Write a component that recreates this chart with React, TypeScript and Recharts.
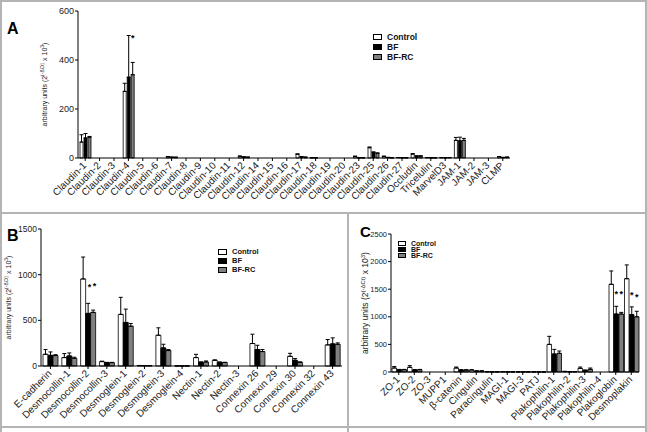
import React from "react";
import { BarChart, Bar, XAxis, YAxis, ErrorBar, LabelList } from "recharts";

const FONT = "'Liberation Sans', Arial, Helvetica, sans-serif";

// ---------- Panel A ----------
const catsA = ["Claudin-1","Claudin-2","Claudin-3","Claudin-4","Claudin-5","Claudin-6","Claudin-7","Claudin-8","Claudin-9","Claudin-10","Claudin-11","Claudin-12","Claudin-14","Claudin-15","Claudin-16","Claudin-17","Claudin-18","Claudin-19","Claudin-20","Claudin-23","Claudin-25","Claudin-26","Claudin-27","Occludin","Tricelulin","MarvelD3","JAM-1","JAM-2","JAM-3","CLMP"];
const ctrlA = [65,0,0,272,0,0,5,0,0,0,0,7,0,0,0,15,1,0,0,6,42,6,2,16,2,2,72,0,0,5];
const ctrlErrA = [30,0,0,33,0,0,1,0,0,0,0,1,0,0,0,2,0,0,0,2,3,2,0,2,0,0,12,0,0,1];
const bfA = [82,0,0,330,0,0,3,0,0,0,0,4,0,0,0,5,1,0,0,1,23,2,1,8,1,1,70,0,0,2];
const bfErrA = [18,0,0,170,0,0,1,0,0,0,0,1,0,0,0,1,0,0,0,0,2,1,0,1,0,0,15,0,0,1];
const rcA = [85,0,0,340,0,0,3,0,0,0,0,3,0,0,0,3,0,0,0,1,19,1,1,8,1,2,72,0,0,3];
const rcErrA = [3,0,0,50,0,0,0,0,0,0,0,1,0,0,0,1,0,0,0,0,2,0,0,1,0,0,8,0,0,1];
const bfSigA = ["","","","*","","","","","","","","","","","","","","","","","","","","","","","","","",""];
const rcSigA = catsA.map(() => "");
const ticksA = [0, 200, 400, 600];

// ---------- Panel B ----------
const catsB = ["E-cadherin","Desmocollin-1","Desmocollin-2","Desmocollin-3","Desmoglein-1","Desmoglein-2","Desmoglein-3","Desmoglein-4","Nectin-1","Nectin-2","Nectin-3","Connexin 26","Connexin 29","Connexin 30","Connexin 32","Connexin 43"];
const ctrlB = [128,92,953,48,565,5,337,2,92,62,0,246,0,106,0,231];
const ctrlErrB = [52,44,240,5,187,1,81,0,36,5,0,102,0,33,0,59];
const bfB = [117,110,576,37,477,4,198,1,40,40,0,180,0,62,0,242];
const bfErrB = [37,33,110,3,146,1,40,0,5,4,0,47,0,19,0,66];
const rcB = [114,84,587,37,436,4,169,1,44,38,0,158,0,40,0,238];
const rcErrB = [10,12,25,3,30,1,11,0,11,3,0,22,0,5,0,15];
const bfSigB = ["","","*","","","","","","","","","","","","",""];
const rcSigB = ["","","*","","","","","","","","","","","","",""];
const ticksB = [0, 500, 1000, 1500];

// ---------- Panel C ----------
const catsC = ["ZO-1","ZO-2","ZO-3","MUPP1","β-catenin","Cingulin","Paracingulin","MAGI-1","MAGI-3","PATJ","Plakophilin-1","Plakophilin-2","Plakophilin-3","Plakophilin-4","Plakoglobin","Desmoplakin"];
const ctrlC = [72,85,0,0,72,36,5,6,3,2,500,10,66,0,1588,1690];
const ctrlErrC = [28,30,0,0,18,5,1,1,0,0,146,2,24,0,242,250];
const bfC = [42,36,0,0,36,18,3,3,2,1,326,5,30,0,1050,1040];
const bfErrC = [5,8,0,0,8,3,0,0,0,0,84,1,5,0,140,140];
const rcC = [42,42,0,0,36,18,3,3,2,1,338,5,48,0,1050,1000];
const rcErrC = [5,5,0,0,5,3,0,0,0,0,42,1,24,0,30,100];
const bfSigC = ["","","","","","","","","","","","","","","*","*"];
const rcSigC = ["","","","","","","","","","","","","","","*","*"];
const ticksC = [0, 500, 1000, 1500, 2000, 2500];

const seriesNames = ["Control", "BF", "BF-RC"];
const seriesFill = ["#ffffff", "#000000", "#808080"];

function build(cats, c, ce, b, be, r, re, bs, rs) {
  return cats.map((name, i) => ({
    name,
    c: c[i], ce: ce[i], b: b[i], be: be[i], r: r[i], re: re[i],
    bs: bs[i], rs: rs[i],
  }));
}

const dataA = build(catsA, ctrlA, ctrlErrA, bfA, bfErrA, rcA, rcErrA, bfSigA, rcSigA);
const dataB = build(catsB, ctrlB, ctrlErrB, bfB, bfErrB, rcB, rcErrB, bfSigB, rcSigB);
const dataC = build(catsC, ctrlC, ctrlErrC, bfC, bfErrC, rcC, rcErrC, bfSigC, rcSigC);

const RotTick = (props) => {
  const { x, y, payload, fs } = props;
  return (
    <g transform={`translate(${x},${y})`}>
      <text
        x={0}
        y={0}
        dx={-1}
        dy={fs * 0.35}
        textAnchor="end"
        transform="rotate(-45)"
        fontSize={fs}
        fontFamily={FONT}
        fill="#222"
      >
        {payload.value}
      </text>
    </g>
  );
};

const makeStar = (above, dx) => (props) => {
  const { x, y, width, value } = props;
  if (value !== "*") return null;
  const cx = Number(x) + Number(width) / 2 + dx;
  const cy = Number(y) - above;
  return (
    <text x={cx} y={cy + 5} textAnchor="middle" fontSize={9} fontFamily={FONT} fontWeight="bold" fill="#000">
      *
    </text>
  );
};

const makeYLabel = (cx, fs) => (props) => {
  const vb = props.viewBox || {};
  const cy = vb.y + vb.height / 2;
  const small = fs * 0.7;
  const up = fs * 0.4;
  return (
    <text
      transform={`translate(${cx},${cy}) rotate(-90)`}
      textAnchor="middle"
      fontSize={fs}
      fontFamily={FONT}
      fill="#222"
    >
      <tspan>arbitrary units (2</tspan>
      <tspan dy={-up} fontSize={small}>(-ΔCt)</tspan>
      <tspan dy={up}> x 10</tspan>
      <tspan dy={-up} fontSize={small}>3</tspan>
      <tspan dy={up}>)</tspan>
    </text>
  );
};

function Panel(p) {
  const {
    data, width, height, margin, yWidth, xHeight, ticks, barSize, barGap,
    starAbove, starDx, labelX, labelFs, xFs, yFs,
  } = p;
  const star = makeStar(starAbove, starDx);
  return (
    <BarChart
      width={width}
      height={height}
      data={data}
      margin={margin}
      barSize={barSize}
      barGap={barGap}
    >
      <XAxis
        dataKey="name"
        interval={0}
        height={xHeight}
        tickSize={3}
        tickMargin={2}
        axisLine={{ stroke: "#000", strokeWidth: 1 }}
        tickLine={{ stroke: "#000", strokeWidth: 1 }}
        tick={<RotTick fs={xFs} />}
      />
      <YAxis
        width={yWidth}
        domain={[ticks[0], ticks[ticks.length - 1]]}
        ticks={ticks}
        interval={0}
        tickSize={3}
        tickMargin={1}
        axisLine={{ stroke: "#000", strokeWidth: 1 }}
        tickLine={{ stroke: "#000", strokeWidth: 1 }}
        tick={{ fontSize: yFs, fontFamily: FONT, fill: "#222" }}
        label={{ content: makeYLabel(labelX, labelFs) }}
      />
      <Bar dataKey="c" name={seriesNames[0]} fill={seriesFill[0]} stroke="#000" strokeWidth={0.8} isAnimationActive={false}>
        <ErrorBar dataKey={(d) => [0, d.ce]} width={2} stroke="#000" strokeWidth={1} direction="y" />
      </Bar>
      <Bar dataKey="b" name={seriesNames[1]} fill={seriesFill[1]} stroke="#000" strokeWidth={0.8} isAnimationActive={false}>
        <ErrorBar dataKey={(d) => [0, d.be]} width={2} stroke="#000" strokeWidth={1} direction="y" />
        <LabelList dataKey="bs" content={star} />
      </Bar>
      <Bar dataKey="r" name={seriesNames[2]} fill={seriesFill[2]} stroke="#000" strokeWidth={0.8} isAnimationActive={false}>
        <ErrorBar dataKey={(d) => [0, d.re]} width={2} stroke="#000" strokeWidth={1} direction="y" />
        <LabelList dataKey="rs" content={star} />
      </Bar>
    </BarChart>
  );
}

function LegendBox({ left, top, fs, gap, sw, sh }) {
  return (
    <div style={{ position: "absolute", left, top, fontFamily: FONT, fontWeight: "bold", fontSize: fs, color: "#111" }}>
      {seriesNames.map((n, i) => (
        <div key={n} style={{ display: "flex", alignItems: "center", height: gap, whiteSpace: "nowrap" }}>
          <div style={{ width: sw, height: sh, background: seriesFill[i], border: "1px solid #000", boxSizing: "border-box", marginRight: 5 }} />
          <span style={{ lineHeight: 1 }}>{n}</span>
        </div>
      ))}
    </div>
  );
}

const line = (l, t, w, h) => (
  <div style={{ position: "absolute", left: l, top: t, width: w, height: h, background: "#b4b4b4" }} />
);

const letter = (ch, l, t, fs) => (
  <div style={{ position: "absolute", left: l, top: t, fontFamily: FONT, fontWeight: "bold", fontSize: fs, lineHeight: 1, color: "#000" }}>{ch}</div>
);

export default function App() {
  return (
    <div style={{ position: "absolute", left: 0, top: 0, width: 647, height: 432, background: "#fff", overflow: "hidden" }}>
      {line(0, 0, 647, 2)}
      {line(0, 0, 2, 432)}
      {line(645, 0, 2, 432)}
      {line(0, 212, 647, 2)}
      {line(347, 212, 2, 220)}
      {line(0, 426, 647, 2)}

      <div style={{ position: "absolute", left: 0, top: 0 }}>
        <Panel
          data={dataA} width={647} height={212}
          margin={{ top: 11, right: 137, bottom: 0, left: 0 }}
          yWidth={78} xHeight={54} ticks={ticksA}
          barSize={3} barGap={1}
          starAbove={41} starDx={4}
          labelX={47} labelFs={7} xFs={10} yFs={9}
        />
      </div>
      <div style={{ position: "absolute", left: 0, top: 200 }}>
        <Panel
          data={dataB} width={347} height={226}
          margin={{ top: 29, right: 5, bottom: 0, left: 0 }}
          yWidth={41} xHeight={60} ticks={ticksB}
          barSize={5} barGap={0}
          starAbove={28} starDx={1.5}
          labelX={11} labelFs={7} xFs={10} yFs={8.5}
        />
      </div>
      <div style={{ position: "absolute", left: 347, top: 200 }}>
        <Panel
          data={dataC} width={298} height={226}
          margin={{ top: 34, right: 6, bottom: 0, left: 0 }}
          yWidth={44} xHeight={54} ticks={ticksC}
          barSize={4.5} barGap={0.5}
          starAbove={22} starDx={0}
          labelX={21} labelFs={8.5} xFs={10} yFs={7.5}
        />
      </div>

      {letter("A", 7, 21, 16)}
      {letter("B", 7, 228, 16)}
      {letter("C", 360, 224, 15)}

      <LegendBox left={373} top={32} fs={8.5} gap={10} sw={9} sh={6} />
      <LegendBox left={218} top={247} fs={7.5} gap={9} sw={9} sh={6} />
      <LegendBox left={398} top={240} fs={7} gap={6.2} sw={8} sh={5} />
    </div>
  );
}
